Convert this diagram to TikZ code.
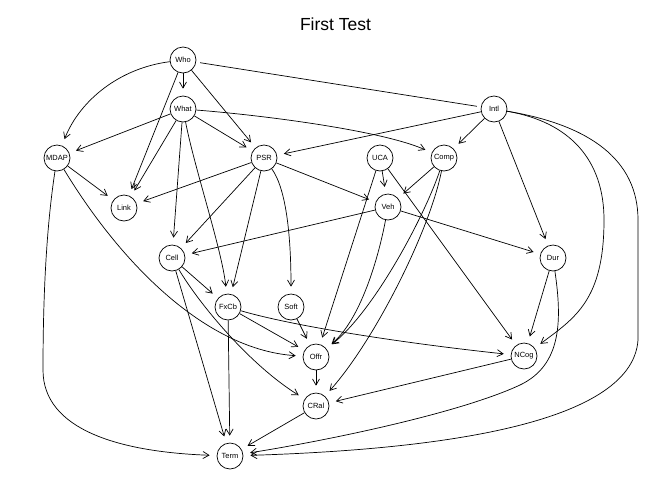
\documentclass[tikz,border=0pt]{standalone}
\usepackage{fontspec}
\setmainfont{Liberation Sans}
\usepackage{tikz}
\usetikzlibrary{arrows.meta}

\begin{document}
\begin{tikzpicture}[x=1pt,y=-1pt,
		vtx/.style={draw,circle,minimum size=26pt,inner sep=0pt,line width=0.7pt,font=\fontsize{7.5}{8}\selectfont},
		edge/.style={line width=0.7pt,-{Straight Barb[length=6pt,width=7pt]},shorten >=7pt},
		link/.style={line width=0.7pt,shorten >=4pt,shorten <=4pt}]
		\useasboundingbox (0,0) rectangle (672,480);
		\node[font=\fontsize{17.5}{20}\selectfont,anchor=base] (title) at (335.5,30) {First Test};
		\node[vtx] (Who) at (183,60) {Who};
		\node[vtx] (What) at (183,109) {What};
		\node[vtx] (Intl) at (494,109) {Intl};
		\node[vtx] (MDAP) at (57,158) {MDAP};
		\node[vtx] (PSR) at (264,158) {PSR};
		\node[vtx] (UCA) at (380,158) {UCA};
		\node[vtx] (Comp) at (444,158) {Comp};
		\node[vtx] (Link) at (124,208) {Link};
		\node[vtx] (Veh) at (388,207) {Veh};
		\node[vtx] (Cell) at (172,258) {Cell};
		\node[vtx] (Dur) at (553,258) {Dur};
		\node[vtx] (FxCb) at (228,307) {FxCb};
		\node[vtx] (Soft) at (291,307) {Soft};
		\node[vtx] (Offr) at (316,357) {Offr};
		\node[vtx] (NCog) at (524,356) {NCog};
		\node[vtx] (CRal) at (316,406) {CRal};
		\node[vtx] (Term) at (230,456) {Term};
		\draw[link] (Who) -- (Intl);
		\draw[edge] (Who) -- (What);
		\draw[edge] (Who) -- (Link);
		\draw[edge] (Who) -- (PSR);
		\draw[edge] (Who) .. controls (120,68) and (80,100) .. (MDAP);
		\draw[edge] (What) -- (MDAP);
		\draw[edge] (What) -- (Link);
		\draw[edge] (What) -- (PSR);
		\draw[edge] (What) -- (Cell);
		\draw[edge] (What) .. controls (195,170) and (222,250) .. (FxCb);
		\draw[edge] (What) .. controls (260,115) and (380,130) .. (Comp);
		\draw[edge] (Intl) -- (PSR);
		\draw[edge] (Intl) -- (Comp);
		\draw[edge] (Intl) -- (Dur);
		\draw[edge] (Intl) .. controls (570,122) and (604,160) .. (604,220) .. controls (604,300) and (575,318) .. (NCog);
		\draw[edge] (Intl) .. controls (590,125) and (638,160) .. (638,220) -- (638,340) .. controls (632,428) and (420,450) .. (Term);
		\draw[edge] (MDAP) -- (Link);
		\draw[edge] (MDAP) .. controls (125,270) and (210,350) .. (Offr);
		\draw[edge] (MDAP) .. controls (46,230) and (43,300) .. (43,370) .. controls (43,430) and (120,452) .. (Term);
		\draw[edge] (PSR) -- (Link);
		\draw[edge] (PSR) -- (Cell);
		\draw[edge] (PSR) -- (FxCb);
		\draw[edge] (PSR) -- (Veh);
		\draw[edge] (PSR) .. controls (287,190) and (291,240) .. (Soft);
		\draw[edge] (UCA) -- (Veh);
		\draw[edge] (UCA) -- (Offr);
		\draw[edge] (UCA) -- (NCog);
		\draw[edge] (Comp) -- (Veh);
		\draw[edge] (Comp) .. controls (425,215) and (375,310) .. (Offr);
		\draw[edge] (Comp) .. controls (430,230) and (375,340) .. (CRal);
		\draw[edge] (Veh) -- (Cell);
		\draw[edge] (Veh) -- (Dur);
		\draw[edge] (Veh) .. controls (378,260) and (360,320) .. (Offr);
		\draw[edge] (Cell) -- (FxCb);
		\draw[edge] (Cell) -- (Term);
		\draw[edge] (Cell) .. controls (200,305) and (250,365) .. (CRal);
		\draw[edge] (Dur) -- (NCog);
		\draw[edge] (Dur) .. controls (562,320) and (562,365) .. (520,385) .. controls (460,413) and (330,440) .. (Term);
		\draw[edge] (FxCb) -- (Term);
		\draw[edge] (FxCb) -- (Offr);
		\draw[edge] (FxCb) .. controls (300,328) and (420,345) .. (NCog);
		\draw[edge] (Soft) -- (Offr);
		\draw[edge] (Offr) -- (CRal);
		\draw[edge] (NCog) -- (CRal);
		\draw[edge] (CRal) -- (Term);
\end{tikzpicture}
\end{document}
